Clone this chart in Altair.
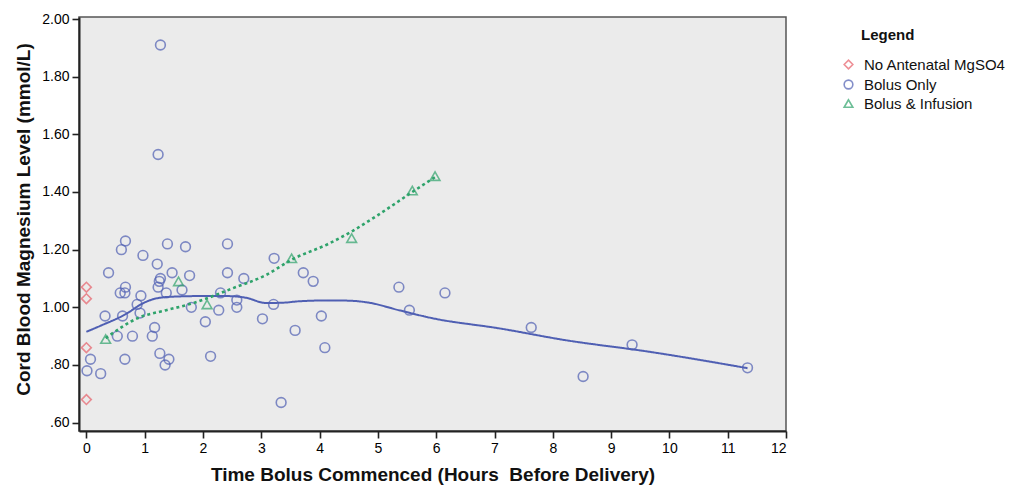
import altair as alt
import pandas as pd

# ---- data ----
groups = ["No Antenatal MgSO4", "Bolus Only", "Bolus & Infusion"]

none_x = [0.0, 0.0, 0.0, 0.0]
none_y = [1.07, 1.03, 0.86, 0.68]

bolus_x = [0.01, 0.07, 0.245, 0.32, 0.38, 0.53, 0.58, 0.60, 0.62, 0.66, 0.67, 0.67, 0.66,
           0.79, 0.87, 0.935, 0.92, 0.97, 1.13, 1.17, 1.215, 1.23, 1.25, 1.27, 1.26, 1.35,
           1.37, 1.39, 1.415, 1.47, 1.64, 1.70, 1.77, 1.80, 2.04, 2.13, 2.27, 2.30, 2.42,
           2.42, 2.58, 2.58, 2.70, 3.02, 3.21, 3.22, 3.34, 3.58, 3.72, 3.89, 4.03, 4.09,
           1.27, 1.23, 5.36, 6.15, 5.54, 7.63, 8.52, 9.36, 11.34]
bolus_y = [0.78, 0.82, 0.77, 0.97, 1.12, 0.90, 1.05, 1.20, 0.97, 1.05, 1.07, 1.23, 0.82,
           0.90, 1.01, 1.04, 0.98, 1.18, 0.90, 0.93, 1.15, 1.07, 1.09, 1.10, 0.84, 0.80,
           1.05, 1.22, 0.82, 1.12, 1.06, 1.21, 1.11, 1.00, 0.95, 0.83, 0.99, 1.05, 1.22,
           1.12, 1.025, 1.00, 1.10, 0.96, 1.01, 1.17, 0.67, 0.92, 1.12, 1.09, 0.97, 0.86,
           1.91, 1.53, 1.07, 1.05, 0.99, 0.93, 0.76, 0.87, 0.79]

infusion_x = [0.33, 1.58, 2.07, 3.52, 4.55, 5.59, 5.98]
infusion_y = [0.89, 1.09, 1.01, 1.17, 1.24, 1.405, 1.455]

# fitted (loess-like) curves
bolus_fit_x = [0, 0.23, 0.68, 0.97, 1.2, 1.49, 1.94, 2.4, 2.74, 3.08, 3.37, 3.65, 4.17,
               4.51, 4.85, 5.36, 5.94, 7.08, 8.22, 9.65, 11.34]
bolus_fit_y = [0.915, 0.935, 0.977, 1.014, 1.031, 1.037, 1.039, 1.039, 1.033, 1.015,
               1.016, 1.021, 1.024, 1.023, 1.016, 0.99, 0.962, 0.927, 0.886, 0.846, 0.789]
inf_fit_x = [0.33, 0.91, 1.37, 1.82, 2.51, 3.08, 3.52, 4.17, 4.54, 5.0, 5.59, 5.99]
inf_fit_y = [0.893, 0.965, 0.99, 1.014, 1.066, 1.112, 1.165, 1.222, 1.262, 1.32, 1.40, 1.453]

x_ticks = [i / 2 for i in range(0, 25)]
y_ticks = [round(0.6 + i / 10, 1) for i in range(0, 15)]

colors = ["#e8606a", "#4f5fb3", "#2fa36b"]
shapes = ["diamond", "circle", "triangle-up"]

# ---- tables ----
pts = pd.concat([
    pd.DataFrame({"x": none_x, "y": none_y, "group": groups[0]}),
    pd.DataFrame({"x": bolus_x, "y": bolus_y, "group": groups[1]}),
    pd.DataFrame({"x": infusion_x, "y": infusion_y, "group": groups[2]}),
])
fits = pd.concat([
    pd.DataFrame({"x": bolus_fit_x, "y": bolus_fit_y, "group": groups[1]}),
    pd.DataFrame({"x": inf_fit_x, "y": inf_fit_y, "group": groups[2]}),
])

FONT = "Liberation Sans"

x_scale = alt.Scale(domain=[-0.127, 12], nice=False, zero=False)
y_scale = alt.Scale(domain=[0.571, 2.007], nice=False, zero=False)

x_axis = alt.Axis(
    title="Time Bolus Commenced (Hours\u00a0 Before Delivery)",
    values=x_ticks,
    labelExpr="datum.value % 1 == 0 ? format(datum.value, 'd') : ''",
    tickSize={"condition": {"test": "datum.value % 1 == 0", "value": 7}, "value": 4},
    grid=False,
    titlePadding=10,
    labelPadding=3,
)
y_axis = alt.Axis(
    title="Cord Blood Magnesium Level (mmol/L)",
    values=y_ticks,
    labelExpr="round(datum.value*10) % 2 != 0 ? '' : (datum.value < 1 ? replace(format(datum.value, '.2f'), '0.', '.') : format(datum.value, '.2f'))",
    tickSize={"condition": {"test": "round(datum.value*10) % 2 == 0", "value": 7}, "value": 4},
    grid=False,
    titlePadding=8,
    titleY=202,
    labelPadding=3,
)

color_scale = alt.Scale(domain=groups, range=colors)

legend = alt.Legend(
    title="Legend", orient="none", legendX=782, legendY=11,
    titleFontSize=15, titleFont=FONT, titleFontWeight="bold", titlePadding=14,
    labelFontSize=15, labelFont=FONT, labelColor="#111111", titleColor="#111111",
    rowPadding=3, symbolSize=75, symbolStrokeWidth=1.6, labelOffset=8,
    symbolOffset=-20,
)

points = alt.Chart(pts).mark_point(filled=False, size=95, strokeWidth=1.6).encode(
    x=alt.X("x:Q", scale=x_scale, axis=x_axis),
    y=alt.Y("y:Q", scale=y_scale, axis=y_axis),
    color=alt.Color("group:N", scale=color_scale, legend=legend),
    shape=alt.Shape("group:N", scale=alt.Scale(domain=groups, range=shapes), legend=legend),
)

lines = alt.Chart(fits).mark_line(interpolate="monotone").encode(
    x=alt.X("x:Q", scale=x_scale),
    y=alt.Y("y:Q", scale=y_scale),
    color=alt.Color("group:N", scale=color_scale),
    strokeDash=alt.StrokeDash("group:N",
                              scale=alt.Scale(domain=groups[1:], range=[[1, 0], [3, 3]]),
                              legend=None),
    strokeWidth=alt.StrokeWidth("group:N",
                                scale=alt.Scale(domain=groups[1:], range=[2, 2.6]),
                                legend=None),
)

chart = alt.layer(points, lines).properties(
    width=707,
    height=414,
    autosize=alt.AutoSizeParams(type="none"),
    padding={"left": 71, "top": 9, "right": 222, "bottom": 60},
    background="white",
).configure_view(
    fill="#ebebeb", stroke="#555555", strokeWidth=1.5,
).configure_axis(
    labelFont=FONT, labelFontSize=14, labelColor="#000000",
    titleFont=FONT, titleFontSize=19, titleFontWeight="bold", titleColor="#111111",
    domainColor="#222222", domainWidth=2, tickColor="#222222", tickWidth=1.6,
)

chart.save("out.html", embed_options={"renderer": "svg", "actions": False})
